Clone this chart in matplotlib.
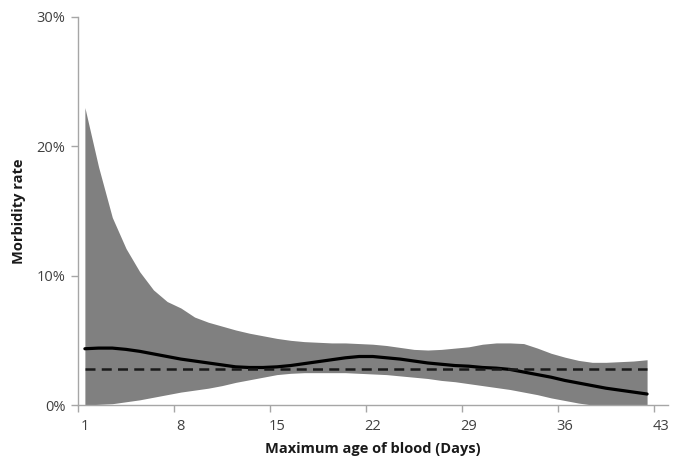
import numpy as np
import matplotlib
matplotlib.use('Agg')
import matplotlib.pyplot as plt

## Values (percent), one per day 1..42
days = np.arange(1, 43)
upper = [23.0, 18.4, 14.5, 12.1, 10.3, 8.9, 8.0, 7.5, 6.8, 6.4,
         6.1, 5.8, 5.55, 5.35, 5.15, 5.0, 4.9, 4.85, 4.8, 4.8,
         4.75, 4.7, 4.6, 4.45, 4.3, 4.25, 4.3, 4.4, 4.5, 4.7,
         4.8, 4.8, 4.75, 4.4, 4.0, 3.7, 3.45, 3.3, 3.3, 3.35,
         3.4, 3.5]
lower = [0.0, 0.05, 0.1, 0.25, 0.4, 0.6, 0.8, 1.0, 1.15, 1.3,
         1.5, 1.75, 1.95, 2.15, 2.35, 2.45, 2.5, 2.5, 2.5, 2.5,
         2.45, 2.4, 2.35, 2.25, 2.15, 2.05, 1.9, 1.8, 1.65, 1.5,
         1.35, 1.2, 1.0, 0.8, 0.55, 0.35, 0.15, 0.0, 0.0, 0.0,
         0.0, 0.0]
mean = [4.35, 4.4, 4.4, 4.3, 4.15, 3.95, 3.75, 3.55, 3.4, 3.25,
        3.1, 2.95, 2.9, 2.9, 2.95, 3.05, 3.2, 3.35, 3.5, 3.65,
        3.75, 3.75, 3.65, 3.55, 3.4, 3.25, 3.15, 3.05, 3.0, 2.9,
        2.85, 2.75, 2.55, 2.35, 2.15, 1.9, 1.7, 1.5, 1.3, 1.15,
        1.0, 0.85]
overall = [2.8] * len(days)

xlabels = ['1', '8', '15', '22', '29', '36', '43']
ylabels = ['0%', '10%', '20%', '30%']

plt.rcParams['font.family'] = ['Open Sans', 'DejaVu Sans']

fig = plt.figure(figsize=(6.75, 4.68), dpi=100)
ax = fig.add_axes([0.1156, 0.1346, 0.8735, 0.8291])

ax.fill_between(days, lower, upper, color='#808080', linewidth=0)
ax.plot(days, mean, color='black', linewidth=2.3, solid_capstyle='round')
ax.plot(days, overall, color='#1a1a1a', linewidth=1.8, dashes=(4, 2.5))

ax.set_xlim(0.5, 43.5)
ax.set_ylim(0, 30)

## tick marks sit between categories, labels on the categories (Excel style)
ax.set_xticks(np.arange(0.5, 43, 7))
ax.set_xticklabels([])
ax.set_xticks([1, 8, 15, 22, 29, 36, 43], minor=True)
ax.set_xticklabels(xlabels, minor=True)
ax.tick_params(axis='x', which='major', length=5, color='#a6a6a6', width=1)
ax.tick_params(axis='x', which='minor', length=0, pad=10, labelsize=10.5, labelcolor='#404040')

ax.set_yticks([0, 10, 20, 30])
ax.set_yticklabels(ylabels)
ax.tick_params(axis='y', length=5, color='#a6a6a6', width=1, labelsize=10.5, labelcolor='#404040', pad=4)

for side in ['top', 'right']:
    ax.spines[side].set_visible(False)
for side in ['left', 'bottom']:
    ax.spines[side].set_color('#a6a6a6')
    ax.spines[side].set_linewidth(1)

ax.set_xlabel('Maximum age of blood (Days)', fontsize=10.5, fontweight='bold', color='#1a1a1a', labelpad=6)
ax.set_ylabel('Morbidity rate', fontsize=10.5, fontweight='bold', color='#1a1a1a', labelpad=8)

plt.savefig('out.png', dpi=100)
